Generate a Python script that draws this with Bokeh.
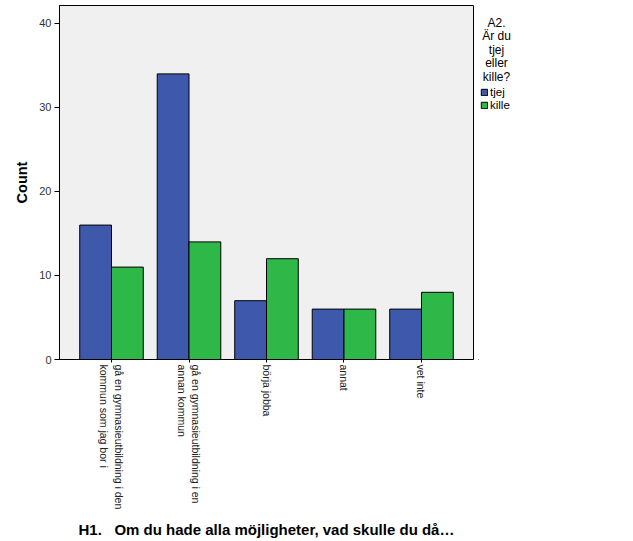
import math
from bokeh.plotting import figure
from bokeh.layouts import row
from bokeh.models import Range1d, FixedTicker, Legend, LegendItem, Label, ColumnDataSource
from bokeh.embed import file_html
from bokeh.resources import INLINE

categories = ["gå en gymnasieutbildning i den\nkommun som jag bor i",
              "gå en gymnasieutbildning i en\nannan kommun",
              "börja jobba", "annat", "vet inte"]
tjej = [16, 34, 7, 6, 6]
kille = [11, 14, 12, 6, 8]
series_names = ["tjej", "kille"]
legend_title_lines = ["A2.", "Är du", "tjej", "eller", "kille?"]
y_ticks = [0, 10, 20, 30, 40]
x_title = "H1.\u00a0\u00a0\u00a0Om du hade alla möjligheter, vad skulle du då…"
y_title = "Count"

FONT = "Liberation Sans"
BLUE = "#3e58ac"
GREEN = "#2eb848"
H = 541
TOP = 5
BOTTOM = 182
FH = H - TOP - BOTTOM  # frame height in px

p = figure(width=478, height=H, output_backend="svg", toolbar_location=None,
           x_range=Range1d(-0.671, 4.671), y_range=Range1d(0, 42.14),
           min_border_left=59, min_border_right=5, min_border_top=TOP, min_border_bottom=BOTTOM)
p.background_fill_color = "#f0f0f0"
p.border_fill_color = "white"
p.outline_line_color = "black"
p.outline_line_width = 1
p.xgrid.visible = False
p.ygrid.visible = False

idx = list(range(len(categories)))
bw = 0.41
src = ColumnDataSource(dict(xb=[i - bw / 2 for i in idx], xg=[i + bw / 2 for i in idx],
                            tjej=tjej, kille=kille))
r1 = p.vbar(x="xb", top="tjej", width=bw, source=src, fill_color=BLUE, line_color="black", line_width=1)
r2 = p.vbar(x="xg", top="kille", width=bw, source=src, fill_color=GREEN, line_color="black", line_width=1)

xa = p.xaxis[0]
xa.ticker = FixedTicker(ticks=idx)
xa.major_label_overrides = {i: c for i, c in zip(idx, categories)}
xa.major_label_orientation = -math.pi / 2
xa.major_label_text_font = FONT
xa.major_label_text_font_size = "10.5px"
xa.major_label_text_color = "#222222"
xa.major_label_standoff = 2
xa.major_tick_out = 3
xa.major_tick_in = 0
xa.minor_tick_out = 0
xa.minor_tick_in = 0
xa.axis_line_color = "black"
xa.axis_label = x_title
xa.axis_label_text_font = FONT
xa.axis_label_text_font_size = "15px"
xa.axis_label_text_font_style = "bold"
xa.axis_label_text_color = "black"
xa.axis_label_standoff = 9

ya = p.yaxis[0]
ya.ticker = FixedTicker(ticks=y_ticks)
ya.major_label_text_font = FONT
ya.major_label_text_font_size = "11px"
ya.major_label_text_color = "#333333"
ya.major_label_standoff = 3
ya.major_tick_out = 5
ya.major_tick_in = 0
ya.minor_tick_out = 0
ya.minor_tick_in = 0
ya.axis_line_color = "black"
ya.axis_label = y_title
ya.axis_label_text_font = FONT
ya.axis_label_text_font_size = "14.5px"
ya.axis_label_text_font_style = "bold"
ya.axis_label_text_color = "black"
ya.axis_label_standoff = 6

# legend panel (frame aligned with the main plot's frame vertically)
W2 = 155
p2 = figure(width=W2, height=H, output_backend="svg", toolbar_location=None,
            x_range=Range1d(0, W2), y_range=Range1d(0, FH),
            min_border_left=0, min_border_right=0, min_border_top=TOP, min_border_bottom=BOTTOM)
p2.axis.visible = False
p2.grid.visible = False
p2.outline_line_color = None
p2.background_fill_color = "white"
p2.border_fill_color = "white"

# legend proxies: zero-height bars placed outside the visible range
proxy = ColumnDataSource(dict(x=[-1000], top=[0]))
l1 = p2.vbar(x="x", top="top", width=1, source=proxy, fill_color=BLUE, line_color="black")
l2 = p2.vbar(x="x", top="top", width=1, source=proxy, fill_color=GREEN, line_color="black")

def ycanvas(yc):
    return (H - BOTTOM) - yc

for k, line in enumerate(legend_title_lines):
    p2.add_layout(Label(x=496 - 478, y=ycanvas(22 + 13.6 * k), text=line, text_align="center",
                        text_baseline="alphabetic", text_font=FONT, text_font_size="12px",
                        text_color="black"))

LEG_H = 26
legend = Legend(items=[LegendItem(label=series_names[0], renderers=[l1]),
                       LegendItem(label=series_names[1], renderers=[l2])],
                location=(2, ycanvas(85.5 + LEG_H)), padding=0, margin=0, spacing=0,
                glyph_width=8, glyph_height=8, label_height=13, label_standoff=2,
                label_text_font=FONT, label_text_font_size="11.5px", label_text_color="black",
                background_fill_alpha=0, border_line_alpha=0)
p2.add_layout(legend, "center")

layout = row(p, p2)
open("out.html", "w").write(file_html(layout, INLINE))
